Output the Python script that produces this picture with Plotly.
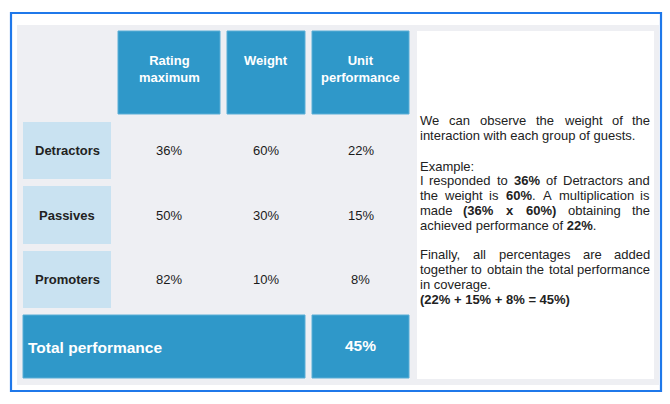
import plotly.graph_objects as go

# ---- data ----
groups = ["Detractors", "Passives", "Promoters"]
headers = ["Rating<br>maximum", "Weight", "Unit<br>performance"]
rating_max = [36, 50, 82]
weight = [60, 30, 10]
unit_perf = [22, 15, 8]
total_label = "Total performance"
total_perf = 45

# explanation text, one entry per printed line: (text, justified?)
note_lines = [
    ("We can observe the weight of the", True),
    ("interaction with each group of guests.", False),
    ("Example:", False),
    ("I responded to <b>36%</b> of Detractors and", True),
    ("the weight is <b>60%</b>. A multiplication is", True),
    ("made <b>(36% x 60%)</b> obtaining the", True),
    ("achieved performance of <b>22%</b>.", False),
    ("Finally, all percentages are added", True),
    ("together to obtain the total performance", True),
    ("in coverage.", False),
    ("<b>(22% + 15% + 8% = 45%)</b>", False),
]
note_y = [120, 135, 166, 180, 195, 210, 225, 254, 269, 284, 299]

# ---- look ----
FONT = "Liberation Sans, Arial, sans-serif"
DARK_BLUE = "#2f98c9"
LIGHT_BLUE = "#c9e2f1"
PANEL = "#eeeff3"
BORDER = "#1f78ea"
TXT = "#222222"

col_x = [(23, 111), (118, 220), (227, 305), (312, 409)]
head_y = (31, 114)
row_y = [(122, 179), (186, 244), (251, 308)]
total_y = (315, 378)
note_left, note_right = 419, 651

# Arial / Liberation Sans advance widths (per 1000 em)
W = {" ": 278, "%": 889, "(": 333, ")": 333, "+": 584, ",": 278, ".": 278,
     ":": 278, "=": 584, "-": 333}
for d in "0123456789":
    W[d] = 556
W.update({"a": 556, "b": 556, "c": 500, "d": 556, "e": 556, "f": 278, "g": 556,
          "h": 556, "i": 222, "j": 222, "k": 500, "l": 222, "m": 833, "n": 556,
          "o": 556, "p": 556, "q": 556, "r": 333, "s": 500, "t": 278, "u": 556,
          "v": 500, "w": 722, "x": 500, "y": 500, "z": 500,
          "A": 667, "D": 722, "E": 667, "F": 611, "I": 278, "W": 944})
WB = dict(W)
WB["x"] = 556


def split_words(line):
    chars = []
    bold = False
    i = 0
    while i < len(line):
        if line.startswith("<b>", i):
            bold = True
            i += 3
            continue
        if line.startswith("</b>", i):
            bold = False
            i += 4
            continue
        chars.append((line[i], bold))
        i += 1
    words, cur = [], []
    for c, b in chars:
        if c == " ":
            if cur:
                words.append(cur)
                cur = []
        else:
            cur.append((c, b))
    if cur:
        words.append(cur)
    return words


def word_width(w, size):
    return sum((WB if b else W).get(c, 556) for c, b in w) * size / 1000.0


def word_html(w):
    out, bold = "", False
    for c, b in w:
        if b and not bold:
            out += "<b>"
        if not b and bold:
            out += "</b>"
        bold = b
        out += c
    if bold:
        out += "</b>"
    return out


fig = go.Figure()
shapes = []
ann = []


def rect(x0, y0, x1, y1, fill, line=None, lw=0):
    shapes.append(dict(type="rect", xref="x", yref="y", x0=x0, y0=y0, x1=x1, y1=y1,
                       fillcolor=fill, line=dict(color=line or fill, width=lw),
                       layer="below"))


def text(x, y, s, size, color=TXT, xanchor="center", yanchor="middle"):
    ann.append(dict(x=x, y=y, xref="x", yref="y", text=s, showarrow=False,
                    xanchor=xanchor, yanchor=yanchor, borderpad=0,
                    font=dict(family=FONT, size=size, color=color)))


# frame and panels
rect(11, 13, 661, 391, "white", BORDER, 2.2)
rect(17, 25, 659, 385, PANEL)
rect(417, 31, 654, 379, "white")

# header cells
for (x0, x1), h in zip(col_x[1:], headers):
    rect(x0, head_y[0], x1, head_y[1], DARK_BLUE, "#5aaed6", 1)
    text((x0 + x1) / 2, 52, "<b>%s</b>" % h, 13, "white", yanchor="top")

# group rows
lx0, lx1 = col_x[0]
for (y0, y1), g, r, w, u in zip(row_y, groups, rating_max, weight, unit_perf):
    rect(lx0, y0, lx1, y1, LIGHT_BLUE)
    yc = (y0 + y1) / 2
    text((lx0 + lx1) / 2, yc, "<b>%s</b>" % g, 13)
    for (x0, x1), v in zip(col_x[1:], [r, w, u]):
        text((x0 + x1) / 2, yc, "%d%%" % v, 13, "#1a1a1a")

# total row
rect(col_x[0][0], total_y[0], col_x[2][1], total_y[1], DARK_BLUE, "#5aaed6", 1)
rect(col_x[3][0], total_y[0], col_x[3][1], total_y[1], DARK_BLUE, "#5aaed6", 1)
text(27, 347, "<b>%s</b>" % total_label, 15.5, "white", xanchor="left")
text((col_x[3][0] + col_x[3][1]) / 2, 345, "<b>%d%%</b>" % total_perf, 15.5, "white")

# explanation text, justified like the original
NS = 13
for (line, just), y in zip(note_lines, note_y):
    if not just:
        text(note_left, y, line, NS, xanchor="left")
        continue
    words = split_words(line)
    widths = [word_width(w, NS) for w in words]
    gap = (note_right - note_left - sum(widths)) / (len(words) - 1)
    x = note_left
    last = len(words) - 1
    for k, (w, wd) in enumerate(zip(words, widths)):
        if k == 0:
            text(note_left, y, word_html(w), NS, xanchor="left")
        elif k == last:
            text(note_right, y, word_html(w), NS, xanchor="right")
        else:
            text(x + wd / 2, y, word_html(w), NS)
        x += wd + gap

fig.update_layout(
    width=670, height=404,
    margin=dict(l=0, r=0, t=0, b=0),
    paper_bgcolor="white", plot_bgcolor="white",
    xaxis=dict(range=[0, 670], visible=False, fixedrange=True),
    yaxis=dict(range=[404, 0], visible=False, fixedrange=True),
    shapes=shapes, annotations=ann, showlegend=False,
)
# the page body has a default 8px margin; drop it so the figure fills the window
fig.write_html("out.html", config={"displayModeBar": False},
               post_script="document.body.style.margin='0';document.body.style.overflow='hidden';")
